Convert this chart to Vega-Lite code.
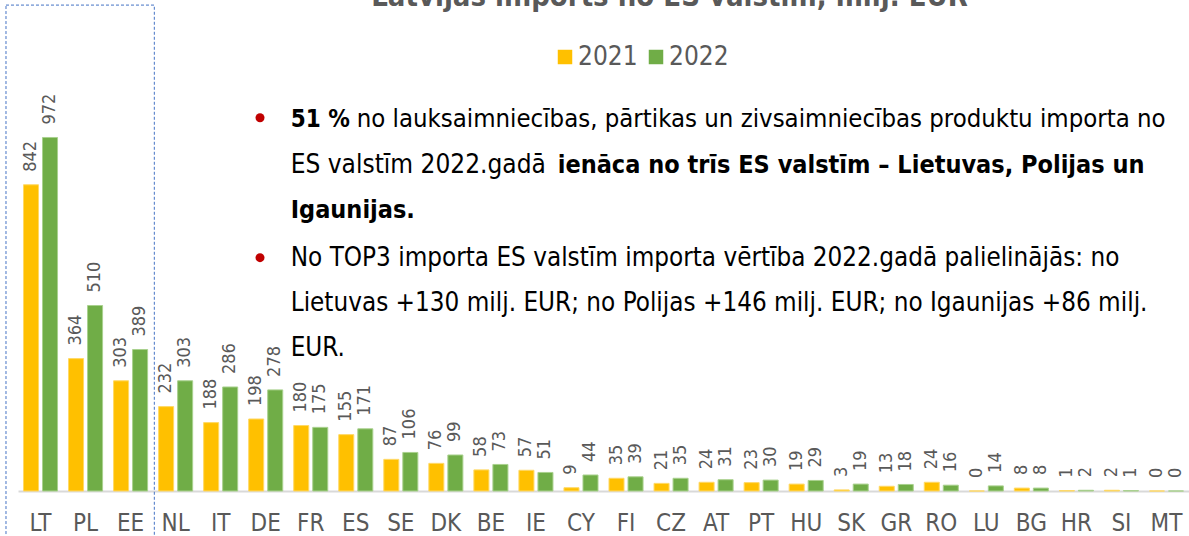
{
  "$schema": "https://vega.github.io/schema/vega-lite/v6.json",
  "width": 1171,
  "height": 491,
  "autosize": {"type": "none"},
  "padding": {"left": 18, "top": 0, "right": 0, "bottom": 45},
  "background": "white",
  "title": {
    "text": "Latvijas imports no ES valstīm, milj. EUR",
    "font": "Liberation Sans Narrow, Arial Narrow, Noto Sans Condensed, DejaVu Sans Condensed, Roboto Condensed, Roboto",
    "fontSize": 29,
    "fontWeight": "bold",
    "color": "#595959",
    "anchor": "middle",
    "frame": "group",
    "offset": 0,
    "baseline": "alphabetic",
    "dx": 66,
    "dy": 35
  },
  "config": {
    "view": {"stroke": null},
    "font": "Liberation Sans Narrow, Arial Narrow, Noto Sans Condensed, DejaVu Sans Condensed, Roboto Condensed, Roboto",
    "axisX": {"domainColor": "#D9D9D9", "domainWidth": 2, "ticks": false, "grid": false, "labelFontSize": 24, "labelColor": "#595959", "labelPadding": 39, "labelBaseline": "alphabetic", "labelAngle": 0, "labelOverlap": false},
    "text": {"font": "Liberation Sans Narrow, Arial Narrow, Noto Sans Condensed, DejaVu Sans Condensed, Roboto Condensed, Roboto"}
  },
  "data": {
    "values": [
      {"country": "LT", "year": "2021", "value": 842}, {"country": "LT", "year": "2022", "value": 972},
      {"country": "PL", "year": "2021", "value": 364}, {"country": "PL", "year": "2022", "value": 510},
      {"country": "EE", "year": "2021", "value": 303}, {"country": "EE", "year": "2022", "value": 389},
      {"country": "NL", "year": "2021", "value": 232}, {"country": "NL", "year": "2022", "value": 303},
      {"country": "IT", "year": "2021", "value": 188}, {"country": "IT", "year": "2022", "value": 286},
      {"country": "DE", "year": "2021", "value": 198}, {"country": "DE", "year": "2022", "value": 278},
      {"country": "FR", "year": "2021", "value": 180}, {"country": "FR", "year": "2022", "value": 175},
      {"country": "ES", "year": "2021", "value": 155}, {"country": "ES", "year": "2022", "value": 171},
      {"country": "SE", "year": "2021", "value": 87}, {"country": "SE", "year": "2022", "value": 106},
      {"country": "DK", "year": "2021", "value": 76}, {"country": "DK", "year": "2022", "value": 99},
      {"country": "BE", "year": "2021", "value": 58}, {"country": "BE", "year": "2022", "value": 73},
      {"country": "IE", "year": "2021", "value": 57}, {"country": "IE", "year": "2022", "value": 51},
      {"country": "CY", "year": "2021", "value": 9}, {"country": "CY", "year": "2022", "value": 44},
      {"country": "FI", "year": "2021", "value": 35}, {"country": "FI", "year": "2022", "value": 39},
      {"country": "CZ", "year": "2021", "value": 21}, {"country": "CZ", "year": "2022", "value": 35},
      {"country": "AT", "year": "2021", "value": 24}, {"country": "AT", "year": "2022", "value": 31},
      {"country": "PT", "year": "2021", "value": 23}, {"country": "PT", "year": "2022", "value": 30},
      {"country": "HU", "year": "2021", "value": 19}, {"country": "HU", "year": "2022", "value": 29},
      {"country": "SK", "year": "2021", "value": 3}, {"country": "SK", "year": "2022", "value": 19},
      {"country": "GR", "year": "2021", "value": 13}, {"country": "GR", "year": "2022", "value": 18},
      {"country": "RO", "year": "2021", "value": 24}, {"country": "RO", "year": "2022", "value": 16},
      {"country": "LU", "year": "2021", "value": 0}, {"country": "LU", "year": "2022", "value": 14},
      {"country": "BG", "year": "2021", "value": 8}, {"country": "BG", "year": "2022", "value": 8},
      {"country": "HR", "year": "2021", "value": 1}, {"country": "HR", "year": "2022", "value": 2},
      {"country": "SI", "year": "2021", "value": 2}, {"country": "SI", "year": "2022", "value": 1},
      {"country": "MT", "year": "2021", "value": 0}, {"country": "MT", "year": "2022", "value": 0}
    ]
  },
  "layer": [
    {
      "mark": {"type": "bar", "strokeWidth": 1},
      "encoding": {
        "x": {
          "field": "country", "type": "nominal", "title": null,
          "scale": {"domain": ["LT","PL","EE","NL","IT","DE","FR","ES","SE","DK","BE","IE","CY","FI","CZ","AT","PT","HU","SK","GR","RO","LU","BG","HR","SI","MT"], "paddingInner": 0.244, "paddingOuter": 0.122}
        },
        "xOffset": {"field": "year", "type": "nominal", "scale": {"domain": ["2021","2022"], "paddingInner": 0.21, "paddingOuter": 0}},
        "y": {"field": "value", "type": "quantitative", "scale": {"domain": [0, 1350], "nice": false}, "axis": null},
        "color": {
          "field": "year", "type": "nominal",
          "scale": {"domain": ["2021","2022"], "range": ["#FFC000","#70AD47"]},
          "legend": {"title": null, "orient": "none", "legendX": 534, "legendY": 44, "direction": "horizontal", "symbolType": "square", "symbolSize": 210, "symbolStrokeWidth": 0, "labelFontSize": 26, "labelColor": "#595959", "labelOffset": 0, "columnPadding": 5, "padding": 0}
        },
        "stroke": {"field": "year", "type": "nominal", "scale": {"domain": ["2021","2022"], "range": ["#FFD966","#A9D18E"]}, "legend": null}
      }
    },
    {
      "mark": {"type": "text", "angle": 270, "align": "left", "baseline": "middle", "dx": 13, "fontSize": 18, "color": "#595959"},
      "encoding": {
        "x": {"field": "country", "type": "nominal", "title": null, "scale": {"domain": ["LT","PL","EE","NL","IT","DE","FR","ES","SE","DK","BE","IE","CY","FI","CZ","AT","PT","HU","SK","GR","RO","LU","BG","HR","SI","MT"], "paddingInner": 0.244, "paddingOuter": 0.122}},
        "xOffset": {"field": "year", "type": "nominal", "scale": {"domain": ["2021","2022"], "paddingInner": 0.21, "paddingOuter": 0}},
        "y": {"field": "value", "type": "quantitative", "scale": {"domain": [0, 1350], "nice": false}, "axis": null},
        "text": {"field": "value", "type": "quantitative"}
      }
    },
    {
      "data": {"values": [{}]},
      "mark": {"type": "rect", "filled": false, "fill": null, "stroke": "#4472C4", "strokeWidth": 1, "strokeDash": [3, 2], "xOffset": -17.5, "x2Offset": 6.7},
      "encoding": {
        "x": {"datum": "LT", "bandPosition": 0, "title": null, "scale": {"domain": ["LT","PL","EE","NL","IT","DE","FR","ES","SE","DK","BE","IE","CY","FI","CZ","AT","PT","HU","SK","GR","RO","LU","BG","HR","SI","MT"], "paddingInner": 0.244, "paddingOuter": 0.122}},
        "x2": {"datum": "EE", "bandPosition": 1},
        "y": {"datum": 1336, "type": "quantitative", "scale": {"domain": [0, 1350], "nice": false}, "axis": null},
        "y2": {"datum": -200}
      }
    },
    {
      "data": {"values": [{}]},
      "mark": {"type": "point", "filled": true, "shape": "circle", "size": 81, "color": "#C00000", "opacity": 1, "xOffset": -5.7},
      "encoding": {
        "x": {"datum": "DE", "title": null, "scale": {"domain": ["LT","PL","EE","NL","IT","DE","FR","ES","SE","DK","BE","IE","CY","FI","CZ","AT","PT","HU","SK","GR","RO","LU","BG","HR","SI","MT"], "paddingInner": 0.244, "paddingOuter": 0.122}},
        "y": {"datum": 1026.4, "type": "quantitative", "scale": {"domain": [0, 1350], "nice": false}, "axis": null}
      }
    },
    {
      "data": {"values": [{}]},
      "mark": {"type": "point", "filled": true, "shape": "circle", "size": 81, "color": "#C00000", "opacity": 1, "xOffset": -5.7},
      "encoding": {
        "x": {"datum": "DE", "title": null, "scale": {"domain": ["LT","PL","EE","NL","IT","DE","FR","ES","SE","DK","BE","IE","CY","FI","CZ","AT","PT","HU","SK","GR","RO","LU","BG","HR","SI","MT"], "paddingInner": 0.244, "paddingOuter": 0.122}},
        "y": {"datum": 641.5, "type": "quantitative", "scale": {"domain": [0, 1350], "nice": false}, "axis": null}
      }
    },
    {
      "data": {"values": [{}]},
      "mark": {"type": "text", "text": "51 %", "align": "left", "baseline": "alphabetic", "fontSize": 24, "fontWeight": "bold", "color": "#000000", "dx": 25},
      "encoding": {
        "x": {"datum": "DE", "title": null, "scale": {"domain": ["LT","PL","EE","NL","IT","DE","FR","ES","SE","DK","BE","IE","CY","FI","CZ","AT","PT","HU","SK","GR","RO","LU","BG","HR","SI","MT"], "paddingInner": 0.244, "paddingOuter": 0.122}},
        "y": {"datum": 1000.8, "type": "quantitative", "scale": {"domain": [0, 1350], "nice": false}, "axis": null}
      }
    },
    {
      "data": {"values": [{}]},
      "mark": {"type": "text", "text": "no lauksaimniecības, pārtikas un zivsaimniecības produktu importa no", "align": "left", "baseline": "alphabetic", "fontSize": 25.5, "color": "#000000", "dx": 91},
      "encoding": {
        "x": {"datum": "DE", "title": null, "scale": {"domain": ["LT","PL","EE","NL","IT","DE","FR","ES","SE","DK","BE","IE","CY","FI","CZ","AT","PT","HU","SK","GR","RO","LU","BG","HR","SI","MT"], "paddingInner": 0.244, "paddingOuter": 0.122}},
        "y": {"datum": 1000.8, "type": "quantitative", "scale": {"domain": [0, 1350], "nice": false}, "axis": null}
      }
    },
    {
      "data": {"values": [{}]},
      "mark": {"type": "text", "text": "ES valstīm 2022.gadā", "align": "left", "baseline": "alphabetic", "fontSize": 26, "color": "#000000", "dx": 25},
      "encoding": {
        "x": {"datum": "DE", "title": null, "scale": {"domain": ["LT","PL","EE","NL","IT","DE","FR","ES","SE","DK","BE","IE","CY","FI","CZ","AT","PT","HU","SK","GR","RO","LU","BG","HR","SI","MT"], "paddingInner": 0.244, "paddingOuter": 0.122}},
        "y": {"datum": 874.3, "type": "quantitative", "scale": {"domain": [0, 1350], "nice": false}, "axis": null}
      }
    },
    {
      "data": {"values": [{}]},
      "mark": {"type": "text", "text": "ienāca no trīs ES valstīm – Lietuvas, Polijas un", "align": "left", "baseline": "alphabetic", "fontSize": 25, "fontWeight": "bold", "color": "#000000", "dx": 292},
      "encoding": {
        "x": {"datum": "DE", "title": null, "scale": {"domain": ["LT","PL","EE","NL","IT","DE","FR","ES","SE","DK","BE","IE","CY","FI","CZ","AT","PT","HU","SK","GR","RO","LU","BG","HR","SI","MT"], "paddingInner": 0.244, "paddingOuter": 0.122}},
        "y": {"datum": 874.3, "type": "quantitative", "scale": {"domain": [0, 1350], "nice": false}, "axis": null}
      }
    },
    {
      "data": {"values": [{}]},
      "mark": {"type": "text", "text": "Igaunijas.", "align": "left", "baseline": "alphabetic", "fontSize": 25, "fontWeight": "bold", "color": "#000000", "dx": 25},
      "encoding": {
        "x": {"datum": "DE", "title": null, "scale": {"domain": ["LT","PL","EE","NL","IT","DE","FR","ES","SE","DK","BE","IE","CY","FI","CZ","AT","PT","HU","SK","GR","RO","LU","BG","HR","SI","MT"], "paddingInner": 0.244, "paddingOuter": 0.122}},
        "y": {"datum": 750.6, "type": "quantitative", "scale": {"domain": [0, 1350], "nice": false}, "axis": null}
      }
    },
    {
      "data": {"values": [{}]},
      "mark": {"type": "text", "text": ["No TOP3 importa ES valstīm importa vērtība 2022.gadā palielinājās: no", "Lietuvas +130 milj. EUR; no Polijas +146 milj. EUR; no Igaunijas +86 milj.", "EUR."], "lineHeight": 45, "align": "left", "baseline": "alphabetic", "fontSize": 25.8, "color": "#000000", "dx": 25},
      "encoding": {
        "x": {"datum": "DE", "title": null, "scale": {"domain": ["LT","PL","EE","NL","IT","DE","FR","ES","SE","DK","BE","IE","CY","FI","CZ","AT","PT","HU","SK","GR","RO","LU","BG","HR","SI","MT"], "paddingInner": 0.244, "paddingOuter": 0.122}},
        "y": {"datum": 618.6, "type": "quantitative", "scale": {"domain": [0, 1350], "nice": false}, "axis": null}
      }
    }
  ]
}
